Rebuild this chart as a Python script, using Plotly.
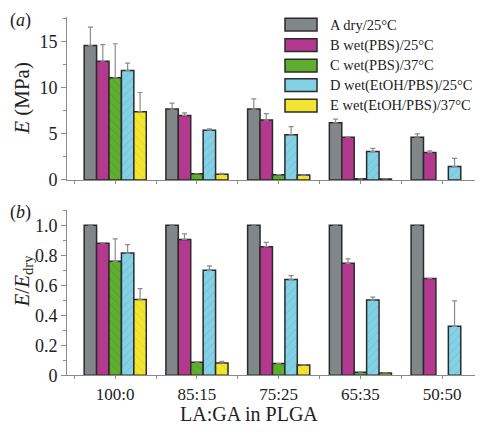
import plotly.graph_objects as go

categories = ["100:0", "85:15", "75:25", "65:35", "50:50"]
series_names = ["A dry/25°C", "B wet(PBS)/25°C", "C wet(PBS)/37°C",
                "D wet(EtOH/PBS)/25°C", "E wet(EtOH/PBS)/37°C"]

# Panel (a): E (MPa)
E_A = [14.6, 7.7, 7.7, 6.2, 4.65]
E_B = [12.9, 7.0, 6.5, 4.65, 2.97]
E_C = [11.1, 0.67, 0.57, 0.12, None]
E_D = [11.9, 5.4, 4.9, 3.08, 1.45]
E_E = [7.4, 0.62, 0.53, 0.1, None]
E_A_err = [2.0, 0.65, 1.1, 0.4, 0.35]
E_B_err = [1.8, 0.28, 0.7, None, 0.18]
E_C_err = [3.7, None, None, None, None]
E_D_err = [0.8, 0.14, 0.9, 0.35, 0.9]
E_E_err = [2.1, 0.1, None, None, None]

# Panel (b): E/E_dry
R_A = [1.0, 1.0, 1.0, 1.0, 1.0]
R_B = [0.88, 0.905, 0.857, 0.746, 0.645]
R_C = [0.759, 0.087, 0.078, 0.02, None]
R_D = [0.814, 0.699, 0.638, 0.501, 0.326]
R_E = [0.505, 0.082, 0.069, 0.015, None]
R_A_err = [None, None, None, None, None]
R_B_err = [None, 0.037, 0.028, 0.029, None]
R_C_err = [0.15, None, None, None, None]
R_D_err = [0.056, 0.03, 0.026, 0.02, 0.17]
R_E_err = [0.072, 0.01, None, None, None]

colors = ["#818689", "#b3398f", "#5fae2f", "#84d1e6", "#f3e52f"]
fg_colors = ["#818689", "#b3398f", "#3f8a1c", "#55a9c2", "#c9b80c"]
shapes_pat = ["", "", "\\", "/", "\\"]

x_idx = list(range(len(categories)))

# the page body adds an 8px margin; size the figure so it fills the window
OFF = 8
W, H = 483 - OFF, 438 - OFF


def px(x):
    return (x - OFF) / W


def py(y):
    return 1 - (y - OFF) / H


fig = go.Figure()

a_vals = [E_A, E_B, E_C, E_D, E_E]
a_errs = [E_A_err, E_B_err, E_C_err, E_D_err, E_E_err]
b_vals = [R_A, R_B, R_C, R_D, R_E]
b_errs = [R_A_err, R_B_err, R_C_err, R_D_err, R_E_err]

for i in range(5):
    for vals, errs, xa, ya in [(a_vals[i], a_errs[i], "x", "y"), (b_vals[i], b_errs[i], "x2", "y2")]:
        fig.add_trace(go.Bar(
            x=x_idx, y=vals, name=series_names[i], showlegend=False,
            xaxis=xa, yaxis=ya, offsetgroup=str(i),
            marker=dict(color=colors[i], line=dict(color="#2b2b2b", width=1.5),
                        pattern=dict(shape=shapes_pat[i], fgcolor=fg_colors[i],
                                     bgcolor=colors[i], size=6, solidity=0.15)),
            error_y=dict(type="data", array=errs, symmetric=False, arrayminus=[0]*5,
                         color="#8a8a8a", thickness=1.2, width=2.5),
        ))

axis_col = "#8a8a8a"
font_col = "#222222"
FAM = "Liberation Serif"
xdom = [px(67), 1.0]
ya_dom = [py(184), py(17)]
yb_dom = [py(384), py(215)]
xrange = [-0.59, 4.5]

common_x = dict(range=xrange, showgrid=False, zeroline=False, showline=True,
                linecolor=axis_col, linewidth=1, ticks="outside", ticklen=3,
                tickcolor=axis_col, tickvals=x_idx,
                minor=dict(tickmode="linear", tick0=0.5, dtick=1, ticklen=3, tickcolor=axis_col))

fig.update_layout(
    width=W, height=H,
    margin=dict(l=0, r=0, t=0, b=0),
    paper_bgcolor="white", plot_bgcolor="white",
    barmode="group", bargap=0.24, bargroupgap=0,
    font=dict(family=FAM, size=18, color=font_col),
    showlegend=False,
    xaxis=dict(domain=xdom, anchor="y", showticklabels=False, **common_x),
    xaxis2=dict(domain=xdom, anchor="y2", ticktext=categories, showticklabels=True,
                tickfont=dict(family=FAM, size=17), **common_x),
    yaxis=dict(domain=ya_dom, anchor="x", range=[0, 17.73], showgrid=False, zeroline=False,
               showline=True, linecolor=axis_col, linewidth=1, ticks="outside", ticklen=5,
               tickcolor=axis_col, tickvals=[0, 5, 10, 15], ticktext=["0", "5", "10", "15"],
               minor=dict(tickmode="linear", tick0=0, dtick=2.5, ticklen=3, tickcolor=axis_col),
               tickfont=dict(family=FAM, size=18)),
    yaxis2=dict(domain=yb_dom, anchor="x2", range=[0, 1.10], showgrid=False, zeroline=False,
                showline=True, linecolor=axis_col, linewidth=1, ticks="outside", ticklen=5,
                tickcolor=axis_col, tickvals=[0, 0.2, 0.4, 0.6, 0.8, 1.0],
                ticktext=["0", "0.2", "0.4", "0.6", "0.8", "1.0"],
                minor=dict(tickmode="linear", tick0=0, dtick=0.1, ticklen=3, tickcolor=axis_col),
                tickfont=dict(family=FAM, size=18)),
)

ann = []
ann.append(dict(text="(<i>a</i>)", x=px(8), y=1.0, xref="paper", yref="paper",
                showarrow=False, font=dict(family=FAM, size=18), xanchor="left", yanchor="top"))
ann.append(dict(text="(<i>b</i>)", x=px(8), y=py(217), xref="paper", yref="paper",
                showarrow=False, font=dict(family=FAM, size=18), xanchor="left", yanchor="middle"))
ann.append(dict(text="<i>E</i> (MPa)", x=px(22), y=py(101), xref="paper", yref="paper",
                showarrow=False, textangle=-90, font=dict(family=FAM, size=21),
                xanchor="center", yanchor="middle"))
ann.append(dict(text="<i>E</i>/<i>E</i><sub>dry</sub>", x=px(23), y=py(288), xref="paper", yref="paper",
                showarrow=False, textangle=-90, font=dict(family=FAM, size=21),
                xanchor="center", yanchor="middle"))
ann.append(dict(text="LA:GA in PLGA", x=px(249), y=py(424), xref="paper", yref="paper",
                showarrow=False, font=dict(family=FAM, size=20), xanchor="center", yanchor="middle"))

# custom legend
row_y = [25, 46, 67, 87, 108]
shapes = []
for i in range(5):
    yc = row_y[i]
    shapes.append(dict(type="rect", xref="paper", yref="paper",
                       x0=px(285), x1=px(317), y0=py(yc + 6.5), y1=py(yc - 6.5),
                       fillcolor=colors[i], line=dict(color="#2b2b2b", width=1.5)))
    ann.append(dict(text=series_names[i], x=px(328), y=py(yc), xref="paper", yref="paper",
                    showarrow=False, font=dict(family=FAM, size=14.5), xanchor="left", yanchor="middle"))

fig.update_layout(annotations=ann, shapes=shapes)

fig.write_html("out.html")
